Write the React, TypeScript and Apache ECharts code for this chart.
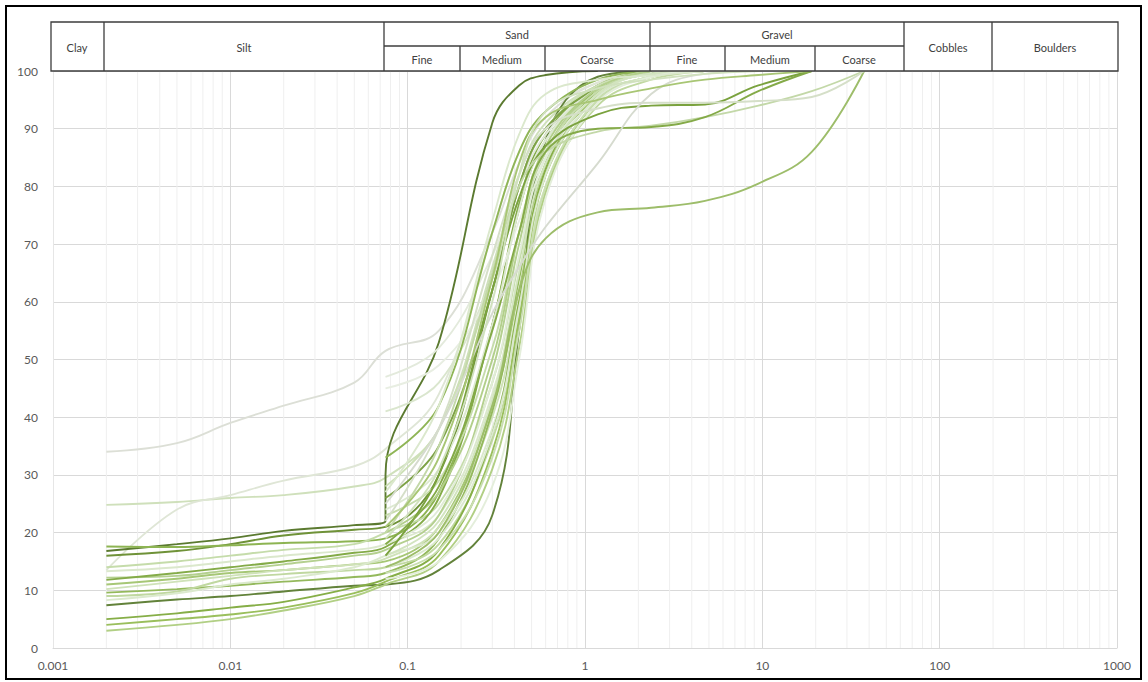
import React, { useEffect, useRef } from "react";
import * as echarts from "echarts";

// Particle sizes (mm)
const fineSizes = [0.002, 0.005, 0.01, 0.02, 0.05, 0.075];
const sieveSizes = [0.075, 0.15, 0.3, 0.425, 0.6, 1.18, 2.36, 4.75, 9.5, 19, 37.5];

// Percent passing from hydrometer (fines) analysis, null when not tested
const finesPassing: (number[] | null)[] = [
  [34, 35.5, 39, 42, 46, 51.5],
  [24.8, 25.3, 26, 26.5, 28, 29.5],
  [13.5, 24, 26.5, 29, 31.5, 34.5],
  [16.8, 18, 19, 20.3, 21.3, 22],
  [16.0, 16.8, 18, 19.5, 20.5, 21],
  [17.6, 17.5, 17.8, 18.2, 18.5, 19],
  [14, 15, 16, 17, 18, 20],
  [13.3, 14, 15, 16, 17, 18],
  [12.2, 12.5, 13.5, 14.5, 16, 17],
  [11.8, 13, 14, 15, 16.5, 17.5],
  [11, 12, 13, 13.5, 14.5, 15],
  [10.2, 11.5, 12.5, 13.5, 14.5, 15.5],
  [9.6, 10.2, 10.8, 11.5, 12.3, 13],
  [9, 9.8, 12, 12.8, 13.5, 14],
  [8.3, 9.5, 11, 12, 14, 16],
  [7.4, 8.4, 9, 9.8, 10.8, 11],
  [5, 6, 7, 8, 10.5, 12],
  [4, 5, 5.8, 7, 9.5, 11.5],
  [3, 4, 5, 6.5, 9, 11],
  null, null, null, null, null, null, null, null, null, null, null, null, null, null,
  null, null, null, null, null, null, null, null, null,
];

// Percent passing from sieve analysis (from 0.075 mm upwards)
const sievePassing: number[][] = [
  [51.5, 55, 72, 84, 92, 98, 99.5, 100],
  [29.5, 38, 66, 82, 91, 97.5, 99.5, 100],
  [34.5, 44, 72, 86, 93, 98, 100],
  [30, 53, 91, 97.5, 99.3, 100],
  [21, 30, 62, 80, 90, 97, 99.5, 100],
  [19, 27, 56, 76, 88, 97, 99.5, 100],
  [20, 25, 46, 67, 84, 96, 99.5, 100],
  [18, 23, 44, 65, 83, 96, 99.5, 100],
  [17, 23, 48, 70, 86, 97, 100],
  [17.5, 26, 56, 77, 89, 97.5, 100],
  [15, 21, 42, 62, 82, 95.5, 99, 100],
  [15.5, 21, 40, 60, 80, 95, 99, 100],
  [13, 19, 41, 64, 84, 97, 99.5, 100],
  [14, 18, 36, 56, 79, 94, 98.5, 100],
  [16, 20, 38, 58, 80, 95, 99, 100],
  [11, 13.5, 23, 55, 88, 99, 100],
  [12, 17, 37, 60, 83, 96.5, 99.5, 100],
  [11.5, 16, 34, 57, 82, 96, 99.5, 100],
  [11, 15, 31, 52, 79, 95, 99, 100],
  [47, 52, 68, 80, 89, 97, 99.5, 100],
  [41, 46, 64, 78, 88, 97, 99.5, 100],
  [45, 49, 62, 74, 85, 95, 99, 100],
  [33, 42, 72, 86, 93, 98.5, 100],
  [28, 38, 64, 80, 90, 97.5, 100],
  [26, 35, 62, 80, 90, 97, 99.5, 100],
  [24, 31, 56, 76, 88, 97, 99.5, 100],
  [23, 29, 52, 72, 86, 96.5, 99.5, 100],
  [20, 27, 50, 72, 87, 97, 100],
  [18, 24, 46, 68, 85, 96, 99.5, 100],
  [16, 22, 43, 65, 84, 96, 99.5, 100],
  [14, 19, 37, 59, 82, 95.5, 99, 100],
  [13, 17, 33, 55, 80, 95, 99, 100],
  [12, 15, 28, 50, 78, 94.5, 99, 100],
  [14, 20, 42, 62, 71, 75.5, 76.3, 77.5, 80.5, 86, 100],
  [16, 30, 62, 78, 87, 92.5, 94, 94.2, 97.5, 100],
  [20, 35, 65, 80, 86, 89.5, 90.5, 92, 94, 96.5, 100],
  [18, 28, 55, 72, 86, 90, 90.3, 92, 96.5, 100],
  [22, 38, 68, 82, 90, 93.5, 94.5, 94.5, 94.8, 95.5, 100],
  [25, 38, 58, 66, 73, 84, 96, 99.5, 100],
  [21, 33, 64, 84, 92, 95, 97, 98.5, 99.3, 100],
  [19, 31, 60, 82, 93, 97, 98.5, 99.5, 100],
  [27, 42, 74, 89, 96, 98.5, 99.2, 100],
];

const curveColors = [
  "#dcdfd6", "#cfe0bb", "#dfe6d6", "#5b7a30", "#6f9238", "#8db452", "#c5dcaa",
  "#dbe8cc", "#b4d08f", "#84ab48", "#a6c775", "#cfe2b8", "#94b95c", "#c0d8a0",
  "#dbe9cd", "#62823a", "#86ae47", "#9abf5c", "#b1cf84", "#e3eadc", "#dae6ce",
  "#e8eee2", "#8fb556", "#cde0b6", "#7da246", "#dde9d1", "#c6dcab", "#b2cf8a",
  "#e1ecd7", "#d2e4bf", "#dbe9cf", "#c9deb1", "#e4eedb", "#9dbd6a", "#7aa23e",
  "#c3d8a8", "#84aa48", "#d5dfc8", "#d6dbcf", "#a8c674", "#d0e1bd", "#dbe8cd",
];

const xTickLabels = ["0.001", "0.01", "0.1", "1", "10", "100", "1000"];
const minorMultipliers = [2, 3, 4, 5, 6, 7, 8, 9];
const decades = [0.001, 0.01, 0.1, 1, 10, 100];

const FONT = "Lato, 'Open Sans', sans-serif";

export default function App() {
  const ref = useRef<HTMLDivElement>(null);
  useEffect(() => {
    if (!ref.current) return;
    const chart = echarts.init(ref.current, undefined, { renderer: "svg" });

    const minorData: number[][] = [];
    decades.forEach((d) => minorMultipliers.forEach((m) => minorData.push([+(d * m).toPrecision(3), 0])));

    const lineSeries = sievePassing.map((sv, i) => {
      const pts: number[][] = [];
      const f = finesPassing[i];
      if (f) f.forEach((v, j) => pts.push([fineSizes[j], v]));
      sv.forEach((v, j) => pts.push([sieveSizes[j], v]));
      return {
        type: "line",
        data: pts,
        showSymbol: false,
        symbol: "none",
        smooth: 0.4,
        silent: true,
        z: 3,
        lineStyle: { color: curveColors[i], width: 1.9 },
      };
    });

    const header = [
      { t: "Clay", x: 77, y: 47 },
      { t: "Silt", x: 244, y: 47 },
      { t: "Sand", x: 517, y: 34 },
      { t: "Gravel", x: 777, y: 34 },
      { t: "Fine", x: 422, y: 59 },
      { t: "Medium", x: 502, y: 59 },
      { t: "Coarse", x: 597, y: 59 },
      { t: "Fine", x: 687, y: 59 },
      { t: "Medium", x: 770, y: 59 },
      { t: "Coarse", x: 859, y: 59 },
      { t: "Cobbles", x: 948, y: 47 },
      { t: "Boulders", x: 1055, y: 47 },
    ];
    const stroke = "#3c3c3c";
    const lw = 1.3;
    const vFull = [104, 384, 650, 904, 992];
    const vHalf = [460, 545, 725, 815];

    const graphics: any[] = [
      {
        type: "rect",
        shape: { x: 6, y: 6, width: 1135, height: 673 },
        style: { fill: "none", stroke: "#000", lineWidth: 2 },
        z: 10,
      },
      {
        type: "rect",
        shape: { x: 51, y: 22, width: 1067, height: 49 },
        style: { fill: "#fff", stroke, lineWidth: lw },
        z: 10,
      },
      {
        type: "line",
        shape: { x1: 384, y1: 46, x2: 904, y2: 46 },
        style: { stroke, lineWidth: lw },
        z: 11,
      },
      ...vFull.map((x) => ({
        type: "line",
        shape: { x1: x, y1: 22, x2: x, y2: 71 },
        style: { stroke, lineWidth: lw },
        z: 11,
      })),
      ...vHalf.map((x) => ({
        type: "line",
        shape: { x1: x, y1: 46, x2: x, y2: 71 },
        style: { stroke, lineWidth: lw },
        z: 11,
      })),
      ...header.map((h) => ({
        type: "text",
        x: h.x,
        y: h.y,
        z: 12,
        style: {
          text: h.t,
          fontSize: 11,
          fontFamily: FONT,
          fill: "#404040",
          align: "center",
          verticalAlign: "middle",
        },
      })),
    ];

    chart.setOption({
      animation: false,
      backgroundColor: "#fff",
      grid: { left: 53, right: 31, top: 71, bottom: 34, containLabel: false },
      xAxis: {
        type: "log",
        logBase: 10,
        min: 0.001,
        max: 1000,
        axisLine: { show: true, lineStyle: { color: "#d9d9d9", width: 1 } },
        axisTick: { show: false },
        axisLabel: {
          color: "#595959",
          fontSize: 12,
          fontFamily: FONT,
          margin: 11,
          formatter: (v: number) => {
            const n = Math.round(Math.log10(v));
            return xTickLabels[n + 3] ?? String(v);
          },
        },
        splitLine: { show: true, lineStyle: { color: "#d9d9d9", width: 1 } },
      },
      yAxis: {
        type: "value",
        min: 0,
        max: 100,
        interval: 10,
        axisLine: { show: true, lineStyle: { color: "#e6e6e6" } },
        axisTick: { show: false },
        axisLabel: { color: "#595959", fontSize: 12, fontFamily: FONT, margin: 15 },
        splitLine: { show: true, lineStyle: { color: "#d9d9d9", width: 1 } },
      },
      series: [
        {
          type: "custom",
          silent: true,
          z: 1,
          data: minorData,
          encode: { x: 0, y: 1 },
          renderItem: (params: any, api: any) => {
            const x = api.value(0);
            const p0 = api.coord([x, 0]);
            const p1 = api.coord([x, 100]);
            return {
              type: "line",
              shape: { x1: p0[0], y1: p0[1], x2: p1[0], y2: p1[1] },
              style: { stroke: "#efefef", lineWidth: 1 },
            };
          },
        },
        ...lineSeries,
      ],
      graphic: graphics,
    });
    return () => chart.dispose();
  }, []);
  return (
    <div
      ref={ref}
      style={{ position: "fixed", left: 0, top: 0, width: 1148, height: 682 }}
    />
  );
}
